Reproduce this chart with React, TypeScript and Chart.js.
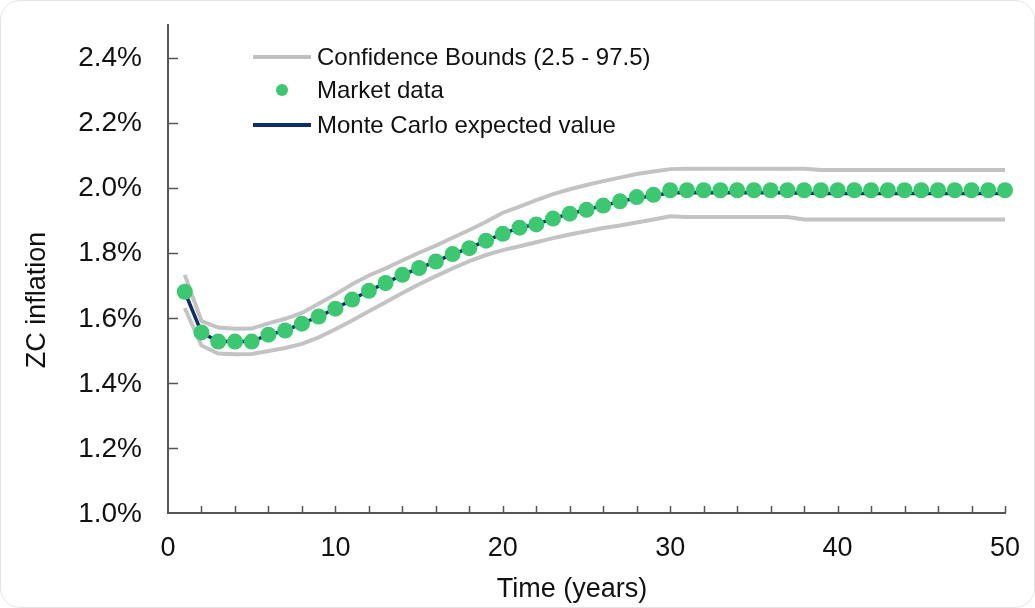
import React, { useEffect, useRef } from 'react';
import { Chart, registerables } from 'chart.js';

Chart.register(...registerables);

// ---- Data (values in %) ----
const years = [
  1, 2, 3, 4, 5, 6, 7, 8, 9, 10, 11, 12, 13, 14, 15, 16, 17, 18, 19, 20, 21, 22, 23, 24, 25,
  26, 27, 28, 29, 30, 31, 32, 33, 34, 35, 36, 37, 38, 39, 40, 41, 42, 43, 44, 45, 46, 47, 48, 49, 50,
];

const marketData = [
  1.68, 1.555, 1.527, 1.527, 1.527, 1.548, 1.561, 1.582, 1.604, 1.628,
  1.656, 1.683, 1.707, 1.732, 1.753, 1.773, 1.796, 1.814, 1.837, 1.858,
  1.877, 1.887, 1.905, 1.92, 1.932, 1.945, 1.958, 1.971, 1.978, 1.992,
  1.992, 1.992, 1.992, 1.992, 1.992, 1.992, 1.992, 1.992, 1.992, 1.992,
  1.992, 1.992, 1.992, 1.992, 1.992, 1.992, 1.992, 1.992, 1.992, 1.992,
];

const mcExpected = [
  1.68, 1.555, 1.527, 1.527, 1.527, 1.548, 1.561, 1.582, 1.604, 1.628,
  1.656, 1.683, 1.707, 1.732, 1.753, 1.773, 1.796, 1.814, 1.837, 1.858,
  1.877, 1.887, 1.905, 1.92, 1.932, 1.945, 1.957, 1.968, 1.975, 1.984,
  1.984, 1.984, 1.984, 1.984, 1.984, 1.984, 1.984, 1.983, 1.982, 1.982,
  1.982, 1.982, 1.982, 1.982, 1.982, 1.982, 1.982, 1.982, 1.982, 1.982,
];

const upperBound = [
  1.732, 1.59, 1.57, 1.566, 1.567, 1.583, 1.597, 1.615, 1.643, 1.672,
  1.703, 1.73, 1.752, 1.776, 1.8, 1.822, 1.846, 1.87, 1.895, 1.923,
  1.942, 1.962, 1.98, 1.995, 2.008, 2.02, 2.031, 2.042, 2.05, 2.057,
  2.058, 2.058, 2.058, 2.058, 2.058, 2.058, 2.058, 2.058, 2.054, 2.054,
  2.054, 2.054, 2.054, 2.054, 2.054, 2.054, 2.054, 2.054, 2.054, 2.054,
];

const lowerBound = [
  1.63, 1.515, 1.49, 1.488, 1.489, 1.498, 1.507, 1.52, 1.54, 1.565,
  1.592, 1.62, 1.648, 1.676, 1.703, 1.728, 1.752, 1.774, 1.793, 1.808,
  1.82, 1.832, 1.845, 1.856, 1.866, 1.876, 1.884, 1.893, 1.902, 1.912,
  1.91, 1.91, 1.91, 1.91, 1.91, 1.91, 1.91, 1.902, 1.902, 1.902,
  1.902, 1.902, 1.902, 1.902, 1.902, 1.902, 1.902, 1.902, 1.902, 1.902,
];

const yTickValues = [1.0, 1.2, 1.4, 1.6, 1.8, 2.0, 2.2, 2.4];
const xTickValues = [0, 10, 20, 30, 40, 50];
const xMinorTickValues = [
  2, 4, 6, 8, 10, 12, 14, 16, 18, 20, 22, 24, 26, 28, 30, 32, 34, 36, 38, 40, 42, 44, 46, 48, 50,
];

const legendItems = [
  { label: 'Confidence Bounds (2.5 - 97.5)', kind: 'line', color: '#BFBFBF' },
  { label: 'Market data', kind: 'dot', color: '#3CC870' },
  { label: 'Monte Carlo expected value', kind: 'line', color: '#0E2D6B' },
];

const yTitle = 'ZC inflation';
const xTitle = 'Time (years)';

const FONT = '"Liberation Sans", Arial, sans-serif';
const AXIS_COLOR = '#555555';
const TEXT_COLOR = '#111111';

const toXY = (vals: number[]) => vals.map((v, i) => ({ x: years[i], y: v }));

const decorPlugin = {
  id: 'decor',
  afterDraw(chart: any) {
    const ctx = chart.ctx as CanvasRenderingContext2D;
    const xs = chart.scales.x;
    const ys = chart.scales.y;
    const area = chart.chartArea;
    ctx.save();
    // tick marks (inside)
    ctx.strokeStyle = AXIS_COLOR;
    ctx.lineWidth = 1.5;
    ctx.beginPath();
    for (const v of xMinorTickValues) {
      const px = Math.round(xs.getPixelForValue(v)) + 0.5;
      ctx.moveTo(px, area.bottom);
      ctx.lineTo(px, area.bottom - 7);
    }
    for (const v of yTickValues) {
      if (v === 1.0) continue;
      const py = Math.round(ys.getPixelForValue(v)) + 0.5;
      ctx.moveTo(area.left, py);
      ctx.lineTo(area.left + 10, py);
    }
    ctx.stroke();

    // tick labels
    ctx.font = `28px ${FONT}`;
    ctx.fillStyle = TEXT_COLOR;
    ctx.textBaseline = 'middle';
    ctx.textAlign = 'right';
    for (const v of yTickValues) {
      ctx.fillText(v.toFixed(1) + '%', 142, ys.getPixelForValue(v) + 1);
    }
    ctx.font = `27px ${FONT}`;
    ctx.textAlign = 'center';
    for (const v of xTickValues) {
      ctx.fillText(String(v), xs.getPixelForValue(v), 549);
    }

    // legend
    ctx.font = `24px ${FONT}`;
    ctx.textBaseline = 'middle';
    ctx.textAlign = 'left';
    const rowsY = [57, 90, 125];
    legendItems.forEach((it, i) => {
      const y = rowsY[i];
      if (it.kind === 'line') {
        ctx.strokeStyle = it.color;
        ctx.lineWidth = 4;
        ctx.beginPath();
        ctx.moveTo(253, y);
        ctx.lineTo(311, y);
        ctx.stroke();
      } else {
        ctx.fillStyle = it.color;
        ctx.beginPath();
        ctx.arc(282, y, 6, 0, Math.PI * 2);
        ctx.fill();
      }
      ctx.fillStyle = TEXT_COLOR;
      ctx.fillText(it.label, 317, y + 1);
    });

    // axis titles
    ctx.font = `27px ${FONT}`;
    ctx.fillStyle = TEXT_COLOR;
    ctx.textAlign = 'center';
    ctx.textBaseline = 'middle';
    ctx.fillText(xTitle, 572, 590);
    ctx.translate(38, 300);
    ctx.rotate(-Math.PI / 2);
    ctx.fillText(yTitle, 0, 0);
    ctx.restore();
  },
};

export default function App() {
  const canvasRef = useRef<HTMLCanvasElement | null>(null);

  useEffect(() => {
    const canvas = canvasRef.current;
    if (!canvas) return;
    const chart = new Chart(canvas, {
      type: 'line',
      data: {
        datasets: [
          {
            label: 'Market data',
            data: toXY(marketData),
            showLine: false,
            pointRadius: 8,
            pointHoverRadius: 8,
            pointBackgroundColor: '#3CC870',
            pointBorderWidth: 0,
            borderColor: '#3CC870',
            clip: false,
          } as any,
          {
            label: 'Monte Carlo expected value',
            data: toXY(mcExpected),
            borderColor: '#0E2D6B',
            borderWidth: 3.5,
            pointRadius: 0,
            tension: 0,
          },
          {
            label: 'Upper',
            data: toXY(upperBound),
            borderColor: '#C3C3C3',
            borderWidth: 4,
            pointRadius: 0,
            tension: 0,
          },
          {
            label: 'Lower',
            data: toXY(lowerBound),
            borderColor: '#C3C3C3',
            borderWidth: 4,
            pointRadius: 0,
            tension: 0,
          },
        ],
      },
      options: {
        animation: false,
        responsive: false,
        devicePixelRatio: 1,
        layout: { padding: { top: 25, right: 30, left: 0, bottom: 0 } },
        plugins: {
          legend: { display: false },
          tooltip: { enabled: false },
        },
        scales: {
          x: {
            type: 'linear',
            min: 0,
            max: 50,
            grid: { display: false, drawTicks: false },
            border: { display: true, color: AXIS_COLOR, width: 2 },
            afterBuildTicks: (s: any) => {
              s.ticks = xTickValues.map((v) => ({ value: v }));
            },
            afterFit: (s: any) => {
              s.height = 95;
            },
            ticks: { display: false },
          },
          y: {
            type: 'linear',
            min: 1.0,
            max: 2.5,
            grid: { display: false, drawTicks: false },
            border: { display: true, color: AXIS_COLOR, width: 2 },
            afterBuildTicks: (s: any) => {
              s.ticks = yTickValues.map((v) => ({ value: v }));
            },
            afterFit: (s: any) => {
              s.width = 168;
            },
            ticks: { display: false },
          },
        },
      },
      plugins: [decorPlugin],
    });
    return () => chart.destroy();
  }, []);

  return (
    <div style={{ position: 'absolute', left: 0, top: 0, width: 1035, height: 608, background: '#ffffff' }}>
      <canvas ref={canvasRef} width={1035} height={608} style={{ position: 'absolute', left: 0, top: 0 }} />
      <div
        style={{
          position: 'absolute',
          left: 0,
          top: 0,
          width: 1035,
          height: 608,
          boxSizing: 'border-box',
          border: '1px solid #e4e4e4',
          borderRadius: 20,
          pointerEvents: 'none',
        }}
      />
    </div>
  );
}
